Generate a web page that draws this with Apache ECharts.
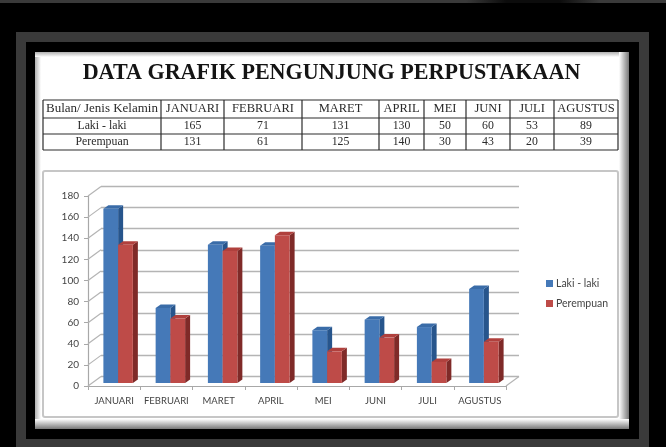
<!DOCTYPE html>
<html>
<head>
<meta charset="utf-8">
<style>
html,body{margin:0;padding:0;background:#000;}
#chart{width:666px;height:447px;}
</style>
<script src="https://cdn.jsdelivr.net/npm/echarts@6/dist/echarts.min.js"></script>
</head>
<body>
<div id="chart"></div>
<script>
var months=['JANUARI','FEBRUARI','MARET','APRIL','MEI','JUNI','JULI','AGUSTUS'];
var lakiLaki=[165,71,131,130,50,60,53,89];
var perempuan=[131,61,125,140,30,43,20,39];
var yTicks=[0,20,40,60,80,100,120,140,160,180];
var title='DATA GRAFIK PENGUNJUNG PERPUSTAKAAN';
var cornerLabel='Bulan/ Jenis Kelamin';
var lakiName='Laki - laki';
var perempuanName='Perempuan';

// table column and row lines
var colX=[43,161,224,302,379,424,466,510,554,618];
var rowY=[100,118,134,150];

var serif='"Liberation Serif", serif';
var sans='Lato, "Open Sans", sans-serif';
var wallDX=13, wallDY=-9.5;

function edge(x,y,w,h,gx,gy,gx2,gy2,color){
	return {
		type:'rect',z:-27,shape:{x:x,y:y,width:w,height:h},
		style:{fill:new echarts.graphic.LinearGradient(gx,gy,gx2,gy2,[{offset:0,color:color},{offset:1,color:'#fff'}])}
	};
}

function frame(){
	var els=[];
	var strip=new echarts.graphic.LinearGradient(0,0,1,0,[
		{offset:0,color:'#3a3a3a'},{offset:0.7,color:'#3a3a3a'},{offset:0.76,color:'#0c0c0c'},
		{offset:0.84,color:'#0c0c0c'},{offset:0.9,color:'#3a3a3a'},{offset:1,color:'#3a3a3a'}
	]);
	els.push({type:'rect',z:-30,shape:{x:0,y:0,width:666,height:3},style:{fill:strip}});
	els.push({type:'rect',z:-30,shape:{x:21,y:37,width:623,height:407},style:{fill:'none',stroke:'#3a3a3a',lineWidth:10}});
	els.push({type:'rect',z:-29,shape:{x:35,y:52,width:594,height:377},style:{fill:'#fff'}});
	// soft shadow round the white page
	els.push(edge(35,52,6,377,0,0,1,0,'#b0b0b0'));
	els.push(edge(35,52,594,5,0,0,0,1,'#b0b0b0'));
	els.push(edge(619,52,10,377,1,0,0,0,'#777'));
	els.push(edge(35,419,594,10,0,1,0,0,'#777'));
	els.push({type:'rect',z:-26,shape:{x:43,y:171,width:575,height:246,r:2},style:{fill:'#fff',stroke:'#c6c6c6',lineWidth:2}});
	return els;
}

function table(){
	var els=[];
	var i;
	els.push({type:'text',z:-20,x:331.5,y:73,style:{text:title,font:'bold 22.1px '+serif,fill:'#141414',align:'center',verticalAlign:'middle'}});
	for(i=0;i<colX.length;i++){
		els.push({type:'line',z:-20,shape:{x1:colX[i],y1:rowY[0],x2:colX[i],y2:rowY[3]},style:{stroke:'#2c2c2c',lineWidth:1.2}});
	}
	for(i=0;i<rowY.length;i++){
		els.push({type:'line',z:-20,shape:{x1:colX[0],y1:rowY[i],x2:colX[colX.length-1],y2:rowY[i]},style:{stroke:'#2c2c2c',lineWidth:1.2}});
	}
	var rows=[[cornerLabel].concat(months),[lakiName].concat(lakiLaki),[perempuanName].concat(perempuan)];
	for(var r=0;r<rows.length;r++){
		for(var c=0;c<rows[r].length;c++){
			var size=r>0?'11.8px ':(c==0?'13px ':'12.5px ');
			els.push({
				type:'text',z:-20,
				x:(colX[c]+colX[c+1])/2,
				y:(rowY[r]+rowY[r+1])/2,
				style:{text:String(rows[r][c]),font:size+serif,fill:'#2a2a2a',align:'center',verticalAlign:'middle'}
			});
		}
	}
	return els;
}

// one 3d looking bar, drawn from the axis scale
function bar3d(seriesPos,front,side,top){
	return function(params,api){
		var idx=api.value(0);
		var p=api.coord([idx,api.value(1)]);
		var base=api.coord([idx,0]);
		var band=api.size([1,0])[0];
		var w=band*0.282;
		var x=p[0]+4+(seriesPos-1)*w;
		var y=p[1]-3;
		var y0=base[1]-3;
		var dx=5, dy=-3.5;
		return {
			type:'group',
			children:[
				{type:'polygon',shape:{points:[[x+w,y],[x+w+dx,y+dy],[x+w+dx,y0+dy],[x+w,y0]]},style:{fill:side}},
				{type:'polygon',shape:{points:[[x,y],[x+dx,y+dy],[x+w+dx,y+dy],[x+w,y]]},style:{fill:top}},
				{type:'rect',shape:{x:x,y:y,width:w,height:y0-y},style:{fill:front}}
			]
		};
	};
}

// diagonal lines of the left wall and the floor
function wallLine(params,api){
	var cs=params.coordSys;
	var p=api.coord([0,api.value(0)]);
	var lineStyle={stroke:'#b4b4b4',lineWidth:1.2};
	var kids=[{type:'line',shape:{x1:cs.x,y1:p[1],x2:cs.x+wallDX,y2:p[1]+wallDY},style:lineStyle}];
	if(api.value(0)==0){
		kids.push({type:'line',shape:{x1:cs.x+cs.width,y1:p[1],x2:cs.x+cs.width+wallDX,y2:p[1]+wallDY},style:lineStyle});
	}
	return {type:'group',children:kids};
}

var chart=echarts.init(document.getElementById('chart'),null,{renderer:'canvas'});
var axisColor='#a8a8a8';
var option={
	animation:false,
	backgroundColor:'#000',
	graphic:{elements:frame().concat(table())},
	legend:{
		data:[lakiName,perempuanName],
		orient:'vertical',
		left:541,
		top:273,
		icon:'rect',
		itemWidth:7,
		itemHeight:7,
		itemGap:9,
		textStyle:{fontFamily:sans,fontSize:10.5,color:'#444',padding:[0,0,0,-2]}
	},
	grid:[
		{left:88,top:196,width:418,height:190},
		{left:88+wallDX,top:196+wallDY,width:418,height:190}
	],
	xAxis:[
		{
			type:'category',gridIndex:0,data:months,
			axisLine:{lineStyle:{color:axisColor,width:1.2}},
			axisTick:{show:true,alignWithLabel:false,length:4,lineStyle:{color:axisColor}},
			axisLabel:{interval:0,fontFamily:sans,fontSize:9.5,color:'#444',margin:10},
			splitLine:{show:false}
		},
		{type:'category',gridIndex:1,data:months,show:false}
	],
	yAxis:[
		{
			type:'value',gridIndex:0,min:0,max:180,interval:20,
			axisLine:{show:true,lineStyle:{color:axisColor,width:1.2}},
			axisTick:{show:true,length:4,lineStyle:{color:axisColor}},
			axisLabel:{fontFamily:sans,fontSize:10,color:'#444',margin:9},
			splitLine:{show:false}
		},
		{
			type:'value',gridIndex:1,min:0,max:180,interval:20,
			axisLine:{show:false},axisTick:{show:false},axisLabel:{show:false},
			splitLine:{show:true,lineStyle:{color:'#b4b4b4',width:1.4}}
		}
	],
	series:[
		{
			type:'custom',name:'wall',silent:true,xAxisIndex:0,yAxisIndex:0,z:1,
			encode:{y:0},
			data:yTicks.map(function(v){return [v];}),
			renderItem:wallLine
		},
		{
			type:'custom',name:lakiName,xAxisIndex:0,yAxisIndex:0,z:3,
			itemStyle:{color:'#4579b8'},
			encode:{x:0,y:1},
			data:lakiLaki.map(function(v,i){return [i,v];}),
			renderItem:bar3d(0,'#4579b8','#27558c','#3a6ca8')
		},
		{
			type:'custom',name:perempuanName,xAxisIndex:0,yAxisIndex:0,z:4,
			itemStyle:{color:'#be4b48'},
			encode:{x:0,y:1},
			data:perempuan.map(function(v,i){return [i,v];}),
			renderItem:bar3d(1,'#be4b48','#7f2a28','#b0403d')
		}
	]
};
chart.setOption(option);
</script>
</body>
</html>
